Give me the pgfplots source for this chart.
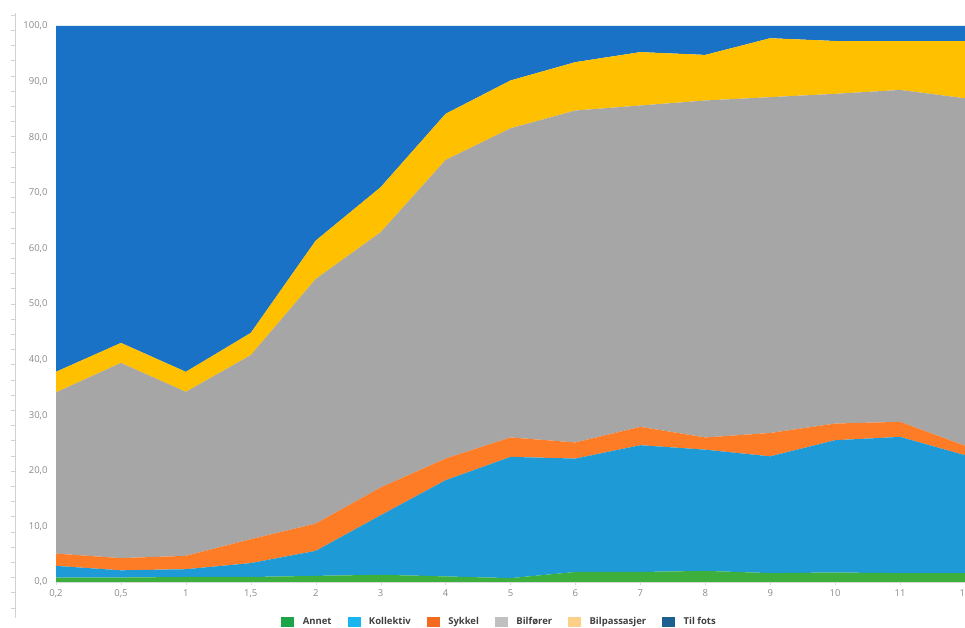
\documentclass[border=0pt]{standalone}
\usepackage{pgfplots}
\pgfplotsset{compat=1.18}
\usepackage{pgfplotstable}
\usepackage{fontspec}
\setmainfont{Open Sans}

% fill colours of the areas
\definecolor{cAnnet}{HTML}{3CAF3C}
\definecolor{cKoll}{HTML}{1E9BD7}
\definecolor{cSykkel}{HTML}{FF7C26}
\definecolor{cBilf}{HTML}{A6A6A6}
\definecolor{cBilp}{HTML}{FFC000}
\definecolor{cFots}{HTML}{1A72C6}
% the legend in the reference uses somewhat different shades
\definecolor{lAnnet}{HTML}{1BA548}
\definecolor{lKoll}{HTML}{19B5F0}
\definecolor{lSykkel}{HTML}{F46A1F}
\definecolor{lBilf}{HTML}{C0C0C0}
\definecolor{lBilp}{HTML}{FDD08A}
\definecolor{lFots}{HTML}{1D5F8E}
\definecolor{ticktxt}{HTML}{8A8A8A}
\definecolor{legtxt}{HTML}{404040}

\pgfplotsset{
  sqlegend/.style={legend image code/.code={\fill[#1] (0pt,-4.5pt) rectangle (12pt,5pt);}},
}

% reisemiddel (percent) per distance class, not cumulative
\pgfplotstableread{
x Annet Kollektiv Sykkel Bilforer Bilpass Tilfots
0  0.8  2.1  2.2 29.0  3.7 62.2
1  0.8  1.3  2.2 35.1  3.6 57.0
2  0.9  1.4  2.4 29.5  3.6 62.2
3  0.9  2.5  4.3 33.1  4.0 55.2
4  1.1  4.5  4.9 44.0  6.9 38.6
5  1.3 10.7  5.0 45.9  8.1 29.0
6  1.0 17.3  3.9 53.7  8.3 15.8
7  0.7 21.8  3.5 55.6  8.6  9.8
8  1.8 20.4  2.9 59.7  8.7  6.5
9  1.8 22.8  3.3 57.8  9.6  4.7
10 2.0 21.8  2.2 60.6  8.2  5.2
11 1.6 21.0  4.2 60.4 10.6  2.2
12 1.7 23.8  3.0 59.3  9.5  2.7
13 1.6 24.5  2.7 59.7  8.8  2.7
14 1.6 21.2  1.7 62.5 10.3  2.7
}\reise

\begin{document}
\begin{tikzpicture}[x=1pt,y=1pt]
\useasboundingbox (0,0) rectangle (965,628);
% ruler at the far left
\draw[gray!35] (15,10) -- (15,615);
\foreach \t in {0,...,39} {\draw[gray!35] (11,613-15.2*\t) -- (15,613-15.2*\t);}
\begin{axis}[
    at={(56pt,46pt)}, anchor=south west,
    scale only axis,
    width=909pt, height=556pt,
    xmin=0, xmax=14, ymin=0, ymax=100,
    enlarge x limits=false, enlarge y limits=false,
    stack plots=y,
    area style,
    axis x line*=bottom, axis y line*=left,
    x axis line style={draw=gray!30},
    y axis line style={draw=none},
    xtick={0,...,14},
    xticklabels={{0,2},{0,5},1,{1,5},2,3,4,5,6,7,8,9,10,11,12},
    ytick={0,10,...,100},
    tick align=outside,
    major tick length=3pt,
    xtick style={draw=gray!30},
    ytick style={draw=none},
    tick label style={font=\fontsize{9.5}{11}\selectfont, text=ticktxt},
    yticklabel style={xshift=-2pt},
    xticklabel style={yshift=-1pt},
    /pgf/number format/.cd, fixed, fixed zerofill, precision=1, use comma,
      1000 sep={}, assume math mode=true,
    /pgfplots/.cd,
    legend columns=6,
    legend style={at={(0.488,-0.072)}, anchor=center, draw=none, fill=none,
      font=\fontsize{9.5}{11}\selectfont\bfseries, text=legtxt,
      /tikz/every odd column/.append style={column sep=7pt},
      /tikz/every even column/.append style={column sep=14pt}},
    legend cell align=left,
  ]
  \addplot[fill=cAnnet, draw=none, forget plot] table[x=x, y=Annet] {\reise} \closedcycle;
  \addplot[fill=cKoll, draw=none, forget plot] table[x=x, y=Kollektiv] {\reise} \closedcycle;
  \addplot[fill=cSykkel, draw=none, forget plot] table[x=x, y=Sykkel] {\reise} \closedcycle;
  \addplot[fill=cBilf, draw=none, forget plot] table[x=x, y=Bilforer] {\reise} \closedcycle;
  \addplot[fill=cBilp, draw=none, forget plot] table[x=x, y=Bilpass] {\reise} \closedcycle;
  \addplot[fill=cFots, draw=none, forget plot] table[x=x, y=Tilfots] {\reise} \closedcycle;

  \addlegendimage{sqlegend=lAnnet}
  \addlegendentry{Annet}
  \addlegendimage{sqlegend=lKoll}
  \addlegendentry{Kollektiv}
  \addlegendimage{sqlegend=lSykkel}
  \addlegendentry{Sykkel}
  \addlegendimage{sqlegend=lBilf}
  \addlegendentry{Bilfører}
  \addlegendimage{sqlegend=lBilp}
  \addlegendentry{Bilpassasjer}
  \addlegendimage{sqlegend=lFots}
  \addlegendentry{Til fots}
\end{axis}
\end{tikzpicture}
\end{document}
